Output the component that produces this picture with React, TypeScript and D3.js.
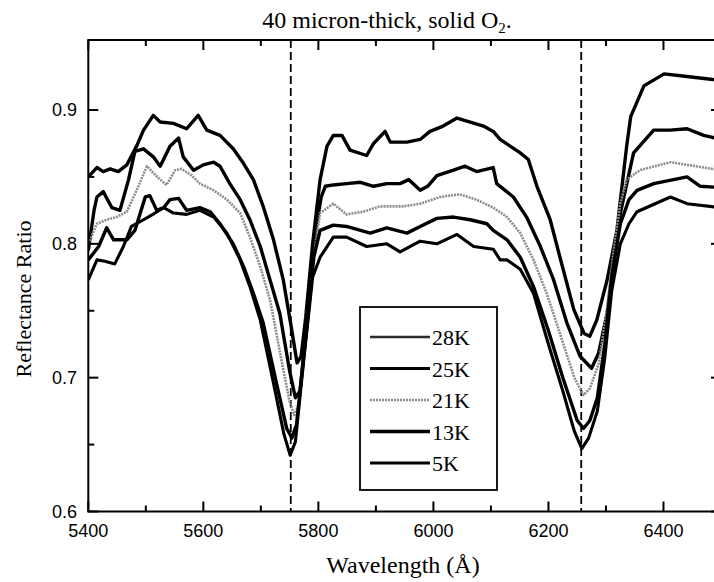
import React from "react";
import * as d3 from "d3";

// [wavelength (Å), reflectance ratio]
const k28: [number, number][] = [
  [5400, 0.85], [5415, 0.857], [5426, 0.854], [5438, 0.856], [5452, 0.854], [5467, 0.859],
  [5484, 0.873], [5496, 0.885], [5513, 0.896], [5525, 0.891], [5548, 0.89], [5571, 0.886],
  [5591, 0.896], [5606, 0.885], [5629, 0.881], [5652, 0.871], [5670, 0.86], [5687, 0.848],
  [5704, 0.828], [5722, 0.803], [5739, 0.773], [5752, 0.74], [5763, 0.711], [5770, 0.716],
  [5778, 0.745], [5790, 0.8], [5803, 0.848], [5815, 0.873], [5826, 0.881], [5841, 0.881],
  [5855, 0.87], [5884, 0.866], [5896, 0.875], [5916, 0.884], [5925, 0.876], [5954, 0.876],
  [5977, 0.878], [5994, 0.884], [6017, 0.888], [6041, 0.894], [6064, 0.891], [6087, 0.888],
  [6104, 0.884], [6116, 0.878], [6151, 0.868], [6165, 0.863], [6180, 0.843], [6203, 0.818],
  [6220, 0.79], [6244, 0.751], [6262, 0.733], [6272, 0.731], [6284, 0.743], [6302, 0.773],
  [6319, 0.81], [6336, 0.873], [6343, 0.895], [6366, 0.918], [6401, 0.927], [6441, 0.925],
  [6482, 0.923], [6500, 0.922],
];

const k25: [number, number][] = [
  [5400, 0.795], [5410, 0.825], [5415, 0.835], [5426, 0.839], [5441, 0.827], [5455, 0.825],
  [5470, 0.848], [5481, 0.869], [5496, 0.871], [5513, 0.865], [5525, 0.858], [5542, 0.873],
  [5557, 0.879], [5565, 0.865], [5583, 0.855], [5600, 0.859], [5618, 0.861], [5629, 0.858],
  [5646, 0.845], [5664, 0.833], [5681, 0.818], [5699, 0.798], [5716, 0.773], [5733, 0.748],
  [5750, 0.705], [5760, 0.685], [5768, 0.69], [5780, 0.74], [5795, 0.81], [5805, 0.835],
  [5812, 0.843], [5826, 0.844], [5849, 0.845], [5873, 0.846], [5896, 0.843], [5919, 0.845],
  [5942, 0.845], [5957, 0.848], [5977, 0.84], [5990, 0.843], [6006, 0.851], [6035, 0.855],
  [6055, 0.858], [6075, 0.854], [6104, 0.857], [6110, 0.845], [6139, 0.835], [6162, 0.82],
  [6186, 0.798], [6209, 0.773], [6232, 0.741], [6255, 0.716], [6275, 0.707], [6287, 0.718],
  [6302, 0.748], [6314, 0.79], [6325, 0.823], [6348, 0.868], [6383, 0.885], [6412, 0.885],
  [6441, 0.886], [6470, 0.881], [6500, 0.878],
];

const k21: [number, number][] = [
  [5400, 0.8], [5415, 0.815], [5432, 0.818], [5449, 0.82], [5467, 0.824], [5484, 0.84],
  [5502, 0.858], [5513, 0.853], [5525, 0.848], [5536, 0.844], [5551, 0.855], [5562, 0.856],
  [5580, 0.851], [5594, 0.845], [5618, 0.84], [5641, 0.833], [5664, 0.823], [5681, 0.805],
  [5699, 0.783], [5716, 0.758], [5735, 0.715], [5750, 0.682], [5758, 0.672], [5766, 0.68],
  [5780, 0.735], [5795, 0.8], [5803, 0.823], [5826, 0.83], [5849, 0.822], [5878, 0.824],
  [5907, 0.828], [5948, 0.828], [5977, 0.83], [6012, 0.835], [6046, 0.837], [6075, 0.833],
  [6104, 0.827], [6128, 0.82], [6151, 0.808], [6174, 0.788], [6197, 0.763], [6220, 0.733],
  [6245, 0.7], [6261, 0.687], [6272, 0.692], [6287, 0.71], [6300, 0.745], [6312, 0.79],
  [6325, 0.83], [6336, 0.848], [6359, 0.855], [6412, 0.861], [6441, 0.859], [6500, 0.855],
];

const k13: [number, number][] = [
  [5400, 0.788], [5418, 0.798], [5432, 0.812], [5444, 0.803], [5467, 0.803], [5481, 0.81],
  [5499, 0.835], [5507, 0.836], [5519, 0.825], [5531, 0.827], [5542, 0.833], [5557, 0.834],
  [5571, 0.825], [5594, 0.827], [5612, 0.824], [5629, 0.815], [5652, 0.8], [5670, 0.783],
  [5687, 0.763], [5704, 0.741], [5725, 0.7], [5745, 0.662], [5754, 0.655], [5762, 0.665],
  [5778, 0.73], [5792, 0.79], [5803, 0.81], [5826, 0.814], [5849, 0.813], [5890, 0.808],
  [5919, 0.812], [5954, 0.808], [5977, 0.813], [6006, 0.819], [6035, 0.82], [6064, 0.818],
  [6093, 0.815], [6104, 0.81], [6128, 0.803], [6151, 0.79], [6174, 0.768], [6200, 0.735],
  [6225, 0.7], [6250, 0.668], [6261, 0.662], [6272, 0.668], [6285, 0.685], [6298, 0.725],
  [6310, 0.775], [6325, 0.815], [6340, 0.833], [6354, 0.84], [6383, 0.845], [6441, 0.85],
  [6464, 0.843], [6500, 0.842],
];

const k5: [number, number][] = [
  [5400, 0.773], [5415, 0.788], [5429, 0.787], [5446, 0.785], [5461, 0.798], [5475, 0.813],
  [5496, 0.818], [5516, 0.823], [5531, 0.827], [5548, 0.823], [5571, 0.822], [5594, 0.825],
  [5618, 0.82], [5641, 0.808], [5664, 0.788], [5681, 0.768], [5699, 0.743], [5720, 0.7],
  [5740, 0.658], [5751, 0.642], [5760, 0.652], [5775, 0.715], [5790, 0.775], [5803, 0.79],
  [5826, 0.805], [5849, 0.805], [5884, 0.798], [5919, 0.8], [5942, 0.794], [5977, 0.802],
  [6006, 0.8], [6041, 0.807], [6070, 0.798], [6104, 0.796], [6116, 0.788], [6128, 0.788],
  [6151, 0.781], [6174, 0.763], [6200, 0.725], [6225, 0.69], [6245, 0.66], [6258, 0.647],
  [6270, 0.655], [6285, 0.675], [6298, 0.715], [6310, 0.765], [6325, 0.8], [6340, 0.815],
  [6354, 0.824], [6412, 0.835], [6441, 0.83], [6500, 0.827],
];

const bandLines = [5752, 6257];
const xTicks = [5400, 5600, 5800, 6000, 6200, 6400];
const xMinor = [5500, 5700, 5900, 6100, 6300, 6500];
const yTicks = [0.6, 0.7, 0.8, 0.9];
const yMinor = [0.65, 0.75, 0.85];
const legendLabels = ["28K", "25K", "21K", "13K", "5K"];

const W = 714;
const H = 582;
const left = 88.3;
const right = 721;
const top = 40;
const bottom = 511.5;

const x = d3.scaleLinear().domain([5400, 6500]).range([left, right]);
const y = d3.scaleLinear().domain([0.6, 0.9]).range([bottom, 110]);

const line = d3
  .line<[number, number]>()
  .x((d) => x(d[0]))
  .y((d) => y(d[1]));

const serif = "'Liberation Serif', 'Times New Roman', serif";
const sans = "'Liberation Sans', Arial, sans-serif";

// curve styles, same order as the legend
const styles = [
  { stroke: "#000", width: 3.4, dash: "none" },
  { stroke: "#000", width: 3.4, dash: "none" },
  { stroke: "#8c8c8c", width: 2.6, dash: "2 1" },
  { stroke: "#000", width: 3.4, dash: "none" },
  { stroke: "#000", width: 3.1, dash: "none" },
];
const legendStyles = [
  { stroke: "#2a2a2a", width: 2.4, dash: "none" },
  { stroke: "#000", width: 3.2, dash: "none" },
  { stroke: "#8c8c8c", width: 2.6, dash: "2 1" },
  { stroke: "#000", width: 3.6, dash: "none" },
  { stroke: "#000", width: 2.8, dash: "none" },
];

export default function App() {
  const series = [k28, k25, k21, k13, k5];
  const legendY = (i: number) => 337 + i * 31.5;

  return (
    <svg
      width={W}
      height={H}
      style={{ position: "absolute", left: 0, top: 0, background: "#fff" }}
    >
      <defs>
        <clipPath id="plot">
          <rect x={left} y={top} width={right - left} height={bottom - top} />
        </clipPath>
      </defs>
      <rect x={0} y={0} width={W} height={H} fill="#fff" />

      {/* band centres */}
      {bandLines.map((b) => (
        <line
          key={b}
          x1={x(b)}
          x2={x(b)}
          y1={top}
          y2={bottom}
          stroke="#000"
          strokeWidth={1.8}
          strokeDasharray="8 4"
        />
      ))}

      <g clipPath="url(#plot)" fill="none" strokeLinejoin="round">
        {series.map((s, i) => (
          <path
            key={i}
            d={line(s) || ""}
            stroke={styles[i].stroke}
            strokeWidth={styles[i].width}
            strokeDasharray={styles[i].dash}
          />
        ))}
      </g>

      {/* frame */}
      <rect
        x={left}
        y={top}
        width={right - left}
        height={bottom - top}
        fill="none"
        stroke="#000"
        strokeWidth={2}
      />

      {/* ticks, pointing inward on all four sides */}
      <g stroke="#000" strokeWidth={2}>
        {xTicks.map((t) => (
          <g key={t}>
            <line x1={x(t)} x2={x(t)} y1={bottom} y2={bottom - 10} />
            <line x1={x(t)} x2={x(t)} y1={top} y2={top + 10} />
          </g>
        ))}
        {xMinor.map((t) => (
          <g key={t}>
            <line x1={x(t)} x2={x(t)} y1={bottom} y2={bottom - 6} />
            <line x1={x(t)} x2={x(t)} y1={top} y2={top + 6} />
          </g>
        ))}
        {yTicks.map((t) => (
          <g key={t}>
            <line x1={left} x2={left + 10} y1={y(t)} y2={y(t)} />
            <line x1={right} x2={right - 10} y1={y(t)} y2={y(t)} />
          </g>
        ))}
        {yMinor.map((t) => (
          <g key={t}>
            <line x1={left} x2={left + 6} y1={y(t)} y2={y(t)} />
            <line x1={right} x2={right - 6} y1={y(t)} y2={y(t)} />
          </g>
        ))}
      </g>

      <g fontFamily={sans} fontSize={18} fill="#000">
        {xTicks.map((t) => (
          <text key={t} x={x(t)} y={537} textAnchor="middle">
            {t}
          </text>
        ))}
        {yTicks.map((t) => (
          <text key={t} x={77} y={y(t) + 6} textAnchor="end">
            {t.toFixed(1)}
          </text>
        ))}
      </g>

      {/* titles */}
      <text x={387} y={28} textAnchor="middle" fontFamily={serif} fontSize={24}>
        40 micron-thick, solid O
        <tspan fontSize={15} dy={5}>2</tspan>
        <tspan dy={-5}>.</tspan>
      </text>
      <text x={403} y={573} textAnchor="middle" fontFamily={serif} fontSize={24}>
        Wavelength (Å)
      </text>
      <text
        transform="translate(31,299) rotate(-90)"
        textAnchor="middle"
        fontFamily={serif}
        fontSize={22}
      >
        Reflectance Ratio
      </text>

      {/* legend */}
      <rect x={360} y={307} width={137} height={183} fill="#fff" stroke="#000" strokeWidth={1.8} />
      {legendLabels.map((l, i) => (
        <g key={l}>
          <line
            x1={370}
            x2={430}
            y1={legendY(i)}
            y2={legendY(i)}
            stroke={legendStyles[i].stroke}
            strokeWidth={legendStyles[i].width}
            strokeDasharray={legendStyles[i].dash}
          />
          <text x={432} y={legendY(i) + 8} fontFamily={serif} fontSize={22}>
            {l}
          </text>
        </g>
      ))}
    </svg>
  );
}
